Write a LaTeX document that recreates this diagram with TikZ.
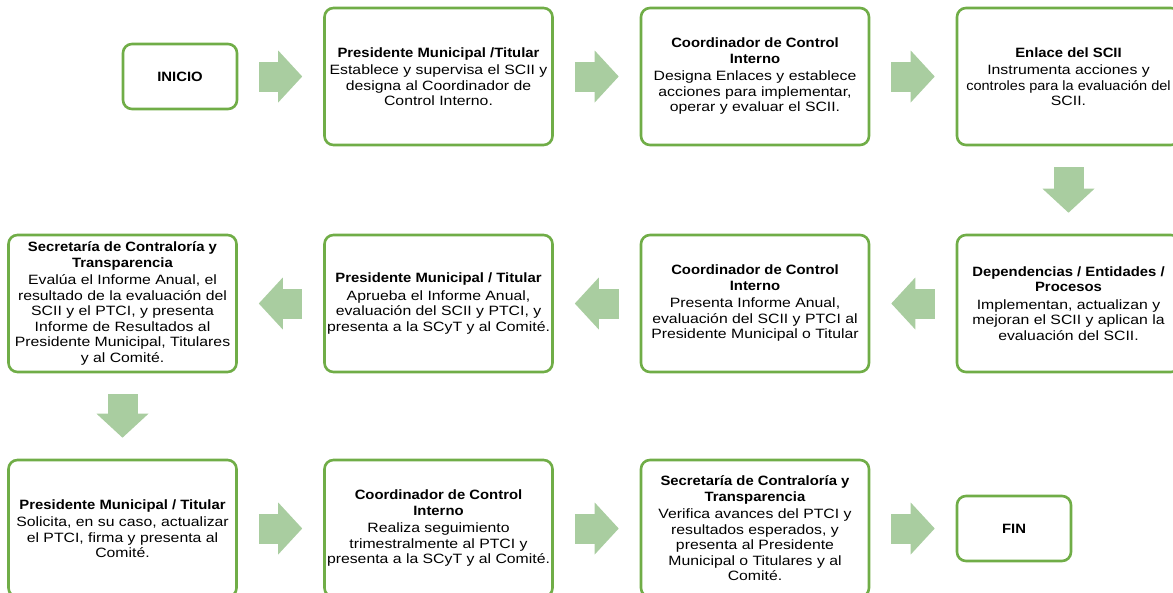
\documentclass[tikz,border=0pt]{standalone}
\usepackage{fontspec}
\setmainfont{Liberation Sans}[FakeStretch=1.17, BoldFeatures={FakeStretch=1.1}]
\usepackage{xcolor}
\usepackage{graphicx}
\usetikzlibrary{arrows.meta}
\definecolor{verdeborde}{RGB}{112,173,71}
\definecolor{verdeflecha}{RGB}{169,205,160}
\tikzset{
	caja/.style={draw=verdeborde, line width=2.6pt, rounded corners=9pt, fill=white, align=center, minimum width=228pt, minimum height=137pt, inner sep=2pt, font=\fontsize{13.5}{15.5}\selectfont},
	cajader/.style={caja, minimum width=223pt},
	limite/.style={caja, minimum width=114pt, minimum height=65pt},
	flecha/.style={draw=verdeflecha, line width=30pt, shorten <=21pt, shorten >=21pt, -{Triangle[length=24pt 0 0, width=52pt 0 0, line width=0pt 0 0, fill=verdeflecha]}},
}
\def\tit#1{\textbf{#1}\\[2pt]}

\begin{document}
\begin{tikzpicture}[x=1pt, y=-1pt]
	\useasboundingbox (0,0) rectangle (1173,592);

	\node[limite] (inicio) at (180,76.5) {\textbf{INICIO}};
	\node[caja] (pres1) at (438.5,76.5) {\tit{Presidente Municipal /Titular}Establece y supervisa el SCII y\\designa al Coordinador de\\Control Interno.};
	\node[caja] (coord1) at (755,76.5) {\textbf{Coordinador de Control}\\\tit{Interno}Designa Enlaces y establece\\acciones para implementar,\\operar y evaluar el SCII.};
	\node[cajader] (enlace) at (1068.5,76.5) {\tit{Enlace del SCII}Instrumenta acciones y\\\scalebox{0.92}[1]{controles para la evaluación del}\\SCII.};

	\node[cajader] (depend) at (1068.5,303.5) {\textbf{Dependencias / Entidades /}\\\tit{Procesos}Implementan, actualizan y\\mejoran el SCII y aplican la\\evaluación del SCII.};
	\node[caja] (coord2) at (755,303.5) {\textbf{Coordinador de Control}\\\tit{Interno}Presenta Informe Anual,\\evaluación del SCII y PTCI al\\Presidente Municipal o Titular};
	\node[caja] (pres2) at (438.5,303.5) {\tit{Presidente Municipal / Titular}Aprueba el Informe Anual,\\evaluación del SCII y PTCI, y\\presenta a la SCyT y al Comité.};
	\node[caja] (secre1) at (122.5,303.5) {\textbf{Secretaría de Contraloría y}\\\tit{Transparencia}Evalúa el Informe Anual, el\\resultado de la evaluación del\\SCII y el PTCI, y presenta\\Informe de Resultados al\\Presidente Municipal, Titulares\\y al Comité.};

	\node[caja] (pres3) at (122.5,528.5) {\tit{Presidente Municipal / Titular}Solicita, en su caso, actualizar\\el PTCI, firma y presenta al\\Comité.};
	\node[caja] (coord3) at (438.5,528.5) {\textbf{Coordinador de Control}\\\tit{Interno}Realiza seguimiento\\trimestralmente al PTCI y\\presenta a la SCyT y al Comité.};
	\node[caja] (secre2) at (755,528.5) {\textbf{Secretaría de Contraloría y}\\\tit{Transparencia}Verifica avances del PTCI y\\resultados esperados, y\\presenta al Presidente\\Municipal o Titulares y al\\Comité.};
	\node[limite] (fin) at (1014,528.5) {\textbf{FIN}};

	\draw[flecha] (inicio) -- (pres1);
	\draw[flecha] (pres1) -- (coord1);
	\draw[flecha] (coord1) -- (enlace);
	\draw[flecha] (enlace) -- (depend);
	\draw[flecha] (depend) -- (coord2);
	\draw[flecha] (coord2) -- (pres2);
	\draw[flecha] (pres2) -- (secre1);
	\draw[flecha] (secre1) -- (pres3);
	\draw[flecha] (pres3) -- (coord3);
	\draw[flecha] (coord3) -- (secre2);
	\draw[flecha] (secre2) -- (fin);
\end{tikzpicture}
\end{document}
